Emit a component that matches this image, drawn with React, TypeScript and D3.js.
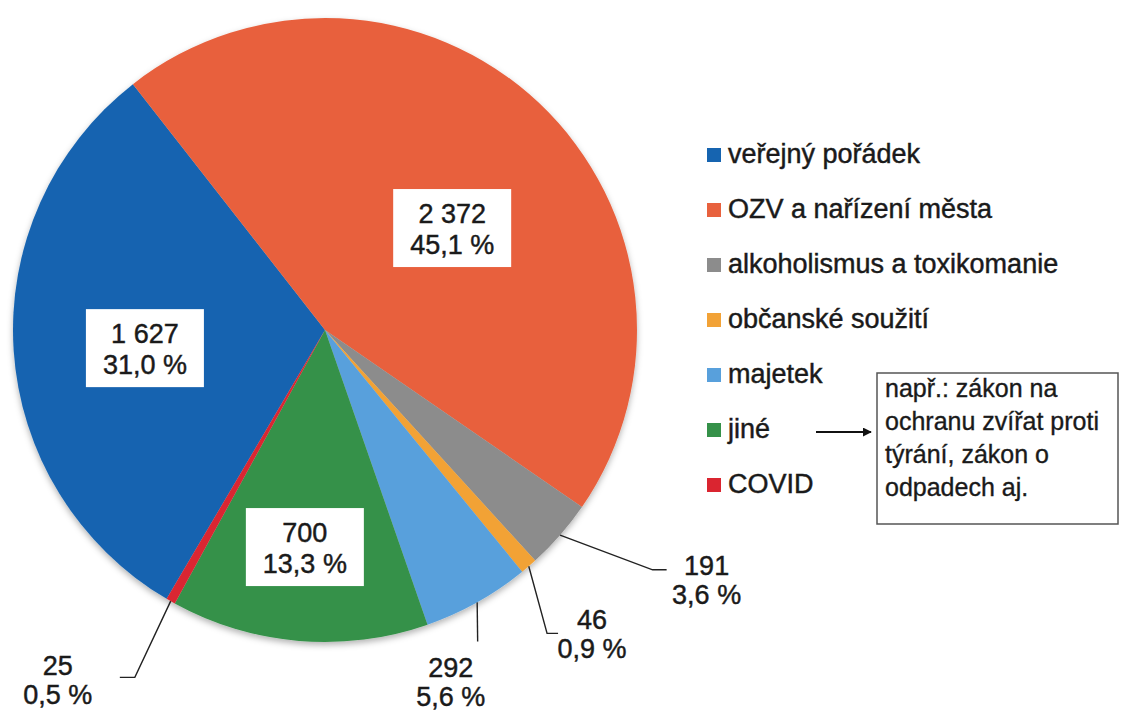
import React from "react";
import * as d3 from "d3";

// ---- data ----
const categories = [
  "veřejný pořádek",
  "OZV a nařízení města",
  "alkoholismus a toxikomanie",
  "občanské soužití",
  "majetek",
  "jiné",
  "COVID",
];
const values = [1627, 2372, 191, 46, 292, 700, 25];
const percentLabels = ["31,0 %", "45,1 %", "3,6 %", "0,9 %", "5,6 %", "13,3 %", "0,5 %"];
const valueLabels = ["1 627", "2 372", "191", "46", "292", "700", "25"];
const colors = ["#1664b0", "#e8613e", "#8c8c8c", "#f2a236", "#58a0dc", "#359149", "#da2530"];
const noteLines = ["např.: zákon na", "ochranu zvířat proti", "týrání, zákon o", "odpadech aj."];

// ---- layout ----
const W = 1122;
const H = 714;
const CX = 325;
const CY = 330;
const R = 312;
const START_DEG = -149.5;
const FONT = "'Liberation Sans', Arial, Helvetica, sans-serif";
const TXT = "#1a1a1a";

// inside box labels: index -> radius, angle adjust (deg)
const insideLayout: Record<number, { r: number; dA: number }> = {
  0: { r: 181, dA: -2 },
  1: { r: 163, dA: 8 },
  5: { r: 218, dA: 0.5 },
};
// outside leader labels: elbow polar, tail, text offset from tail end
const outsideLayout: Record<number, { er: number; ea: number; tail: number; tdx: number; tdy: number }> = {
  2: { er: 406, ea: 126.2, tail: 14, tdx: 40, tdy: 5 },
  3: { er: 376, ea: 143.8, tail: 11, tdx: 34, tdy: -4 },
  4: { er: 347, ea: 153.9, tail: 0, tdx: -27, tdy: 35 },
  6: { er: 396, ea: 208.7, tail: -15, tdx: -62, tdy: -2 },
};

const rad = (d: number) => (d * Math.PI) / 180;
const polar = (r: number, aRad: number): [number, number] => [CX + r * Math.sin(aRad), CY - r * Math.cos(aRad)];

const textStyle = { fill: TXT, stroke: TXT, strokeWidth: 0.45 } as const;

export default function App() {
  const pie = d3
    .pie<number>()
    .sort(null)
    .value((d) => d)
    .startAngle(rad(START_DEG))
    .endAngle(rad(START_DEG) + 2 * Math.PI);
  const arcs = pie(values);
  const arcGen = d3.arc<d3.PieArcDatum<number>>().innerRadius(0).outerRadius(R);

  const legendY = d3.scaleLinear().domain([0, categories.length - 1]).range([163, 493]);
  const noteY = d3.scaleLinear().domain([0, noteLines.length - 1]).range([397, 496]);

  return (
    <svg
      width={W}
      height={H}
      style={{ position: "absolute", left: 0, top: 0, background: "#fff" }}
      fontFamily={FONT}
    >
      <defs>
        <filter id="sh" x="-10%" y="-10%" width="120%" height="125%">
          <feDropShadow dx="0" dy="3" stdDeviation="3" floodColor="#000" floodOpacity="0.3" />
        </filter>
        <marker id="arr" viewBox="0 0 10 10" refX="9" refY="5" markerWidth="9" markerHeight="9" orient="auto" markerUnits="userSpaceOnUse">
          <path d="M0,0 L10,5 L0,10 Z" fill="#111" />
        </marker>
      </defs>

      <g transform={`translate(${CX},${CY})`} filter="url(#sh)">
        {arcs.map((a, i) => (
          <path key={i} d={arcGen(a) || ""} fill={colors[i]} />
        ))}
      </g>

      {/* inside boxed labels */}
      {arcs.map((a, i) => {
        const L = insideLayout[i];
        if (!L) return null;
        const mid = (a.startAngle + a.endAngle) / 2 + rad(L.dA);
        const [x, y] = polar(L.r, mid);
        const bw = 118;
        const bh = 78;
        return (
          <g key={"in" + i}>
            <rect x={x - bw / 2} y={y - bh / 2} width={bw} height={bh} fill="#fff" />
            <text x={x} y={y - 5} textAnchor="middle" fontSize={27} {...textStyle}>
              {valueLabels[i]}
            </text>
            <text x={x} y={y + 26} textAnchor="middle" fontSize={27} {...textStyle}>
              {percentLabels[i]}
            </text>
          </g>
        );
      })}

      {/* outside leader labels */}
      {arcs.map((a, i) => {
        const L = outsideLayout[i];
        if (!L) return null;
        const mid = (a.startAngle + a.endAngle) / 2;
        const p0 = polar(R, mid);
        const p1 = polar(L.er, rad(L.ea));
        const p2: [number, number] = [p1[0] + L.tail, p1[1]];
        const tx = p2[0] + L.tdx;
        const ty = p2[1] + L.tdy;
        return (
          <g key={"out" + i}>
            <polyline
              points={[p0, p1, p2].map((p) => p.join(",")).join(" ")}
              fill="none"
              stroke="#222"
              strokeWidth={1.4}
            />
            <text x={tx} y={ty} textAnchor="middle" fontSize={27} {...textStyle}>
              {valueLabels[i]}
            </text>
            <text x={tx} y={ty + 29} textAnchor="middle" fontSize={27} {...textStyle}>
              {percentLabels[i]}
            </text>
          </g>
        );
      })}

      {/* legend */}
      {categories.map((c, i) => (
        <g key={"lg" + i}>
          <rect x={707} y={legendY(i) - 15} width={14} height={14} fill={colors[i]} />
          <text x={728} y={legendY(i)} fontSize={27} {...textStyle}>
            {c}
          </text>
        </g>
      ))}

      {/* arrow + note box */}
      <line x1={816} y1={432} x2={871} y2={432} stroke="#111" strokeWidth={1.8} markerEnd="url(#arr)" />
      <rect x={877} y={373} width={241} height={151} fill="#fff" stroke="#555" strokeWidth={1.5} />
      {noteLines.map((t, i) => (
        <text key={"nt" + i} x={885} y={noteY(i)} fontSize={25} {...textStyle} strokeWidth={0.35}>
          {t}
        </text>
      ))}
    </svg>
  );
}
